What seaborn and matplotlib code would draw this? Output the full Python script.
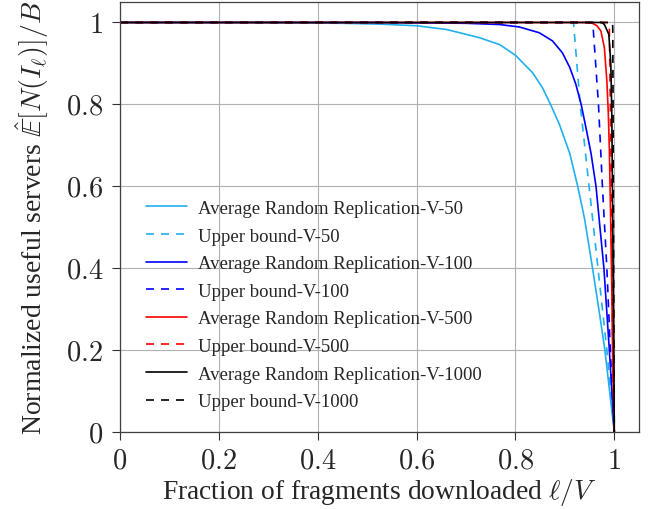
import numpy as np
import pandas as pd
import matplotlib
matplotlib.use("Agg")
import matplotlib.pyplot as plt
import seaborn as sns

# ---- data ----
x_avg_50 = [0, 0.3, 0.45, 0.525, 0.6, 0.66, 0.727, 0.768, 0.8, 0.835, 0.855, 0.871, 0.889, 0.91, 0.926, 0.94, 0.956, 0.97, 0.981, 0.99, 1.0]
y_avg_50 = [1, 0.9998, 0.998, 0.996, 0.992, 0.983, 0.963, 0.946, 0.92, 0.877, 0.84, 0.80, 0.751, 0.68, 0.60, 0.52, 0.40, 0.29, 0.20, 0.105, 0]

x_ub_50 = [0, 0.9175, 0.931, 0.949, 0.967, 0.985, 1.0]
y_ub_50 = [1, 1, 0.8, 0.6, 0.4, 0.2, 0]

x_avg_100 = [0, 0.5, 0.6, 0.7, 0.768, 0.808, 0.848, 0.875, 0.895, 0.91, 0.922, 0.933, 0.944, 0.953, 0.963, 0.979, 0.99, 1.0]
y_avg_100 = [1, 1, 0.999, 0.998, 0.995, 0.989, 0.975, 0.955, 0.926, 0.89, 0.85, 0.80, 0.735, 0.68, 0.60, 0.40, 0.20, 0]

x_ub_100 = [0, 0.9565, 0.968, 0.976, 0.985, 0.992, 1.0]
y_ub_100 = [1, 1, 0.8, 0.6, 0.4, 0.2, 0]

x_avg_500 = [0, 0.94, 0.956, 0.965, 0.973, 0.98, 0.985, 0.988, 0.99, 0.993, 0.995, 0.997, 1.0]
y_avg_500 = [1, 1, 0.998, 0.992, 0.979, 0.938, 0.857, 0.776, 0.69, 0.5, 0.35, 0.15, 0]

x_ub_500 = [0, 0.989, 0.990, 0.993, 0.995, 0.997, 1.0]
y_ub_500 = [1, 1, 0.987, 0.7, 0.4, 0.2, 0]

x_avg_1000 = [0, 0.975, 0.98, 0.989, 0.993, 0.995, 0.997, 0.999, 1.0]
y_avg_1000 = [1, 1, 0.995, 0.971, 0.898, 0.776, 0.5, 0.2, 0]

x_ub_1000 = [0, 0.9965, 0.997, 0.998, 0.999, 1.0]
y_ub_1000 = [1, 1, 0.98, 0.6, 0.3, 0]

labels = ["Average Random Replication-V-50", "Upper bound-V-50",
          "Average Random Replication-V-100", "Upper bound-V-100",
          "Average Random Replication-V-500", "Upper bound-V-500",
          "Average Random Replication-V-1000", "Upper bound-V-1000"]
xs = [x_avg_50, x_ub_50, x_avg_100, x_ub_100, x_avg_500, x_ub_500, x_avg_1000, x_ub_1000]
ys = [y_avg_50, y_ub_50, y_avg_100, y_ub_100, y_avg_500, y_ub_500, y_avg_1000, y_ub_1000]
colors = ["#21b0ef", "#21b0ef", "#0000ff", "#0000ff", "#ff0000", "#ff0000", "#000000", "#000000"]
dashed = [False, True, False, True, False, True, False, True]

xticks = [0, 0.2, 0.4, 0.6, 0.8, 1]
yticks = [0, 0.2, 0.4, 0.6, 0.8, 1]

# ---- style ----
sns.set_style("white")
plt.rcParams["font.family"] = ["Liberation Serif", "DejaVu Serif"]
plt.rcParams["mathtext.fontset"] = "cm"

fig = plt.figure(figsize=(6.52, 5.10), dpi=100)
ax = fig.add_axes([120/652, 1-433/510, 519/652, 430/510])

lw = 1.2
for x, y, c, d, lab in zip(xs, ys, colors, dashed, labels):
    df = pd.DataFrame({"x": x, "y": y})
    sns.lineplot(data=df, x="x", y="y", ax=ax, color=c, lw=lw,
                 estimator=None, sort=False, label=lab,
                 linestyle=(0, (4.8, 4.2)) if d else "-")

ax.set_xlim(0, 1.05)
ax.set_ylim(0, 1.05)
ax.set_xticks(xticks)
ax.set_yticks(yticks)
ax.set_xticklabels([f"${t:g}$" for t in xticks])
ax.set_yticklabels([f"${t:g}$" for t in yticks])
ax.tick_params(axis="both", which="major", labelsize=20.5, direction="out",
               length=6, width=0.8, color="#333333", pad=6,
               bottom=True, left=True, top=False, right=False)
ax.grid(True, color="#b0b0b0", lw=0.8)
for s in ax.spines.values():
    s.set_color("#404040")
    s.set_linewidth(0.9)

ax.set_xlabel(r"Fraction of fragments downloaded $\ell/V$", fontsize=19.8, labelpad=2)
ax.set_ylabel(r"Normalized useful servers $\hat{\mathbb{E}}[N(I_\ell)]/B$", fontsize=20, labelpad=11)

leg = ax.legend(loc="upper left", bbox_to_anchor=(0.05, 0.540), frameon=False,
                fontsize=13.5, handlelength=2.2, handletextpad=0.6,
                labelspacing=0.56, borderpad=0, borderaxespad=0)

fig.savefig("out.png", dpi=100)
